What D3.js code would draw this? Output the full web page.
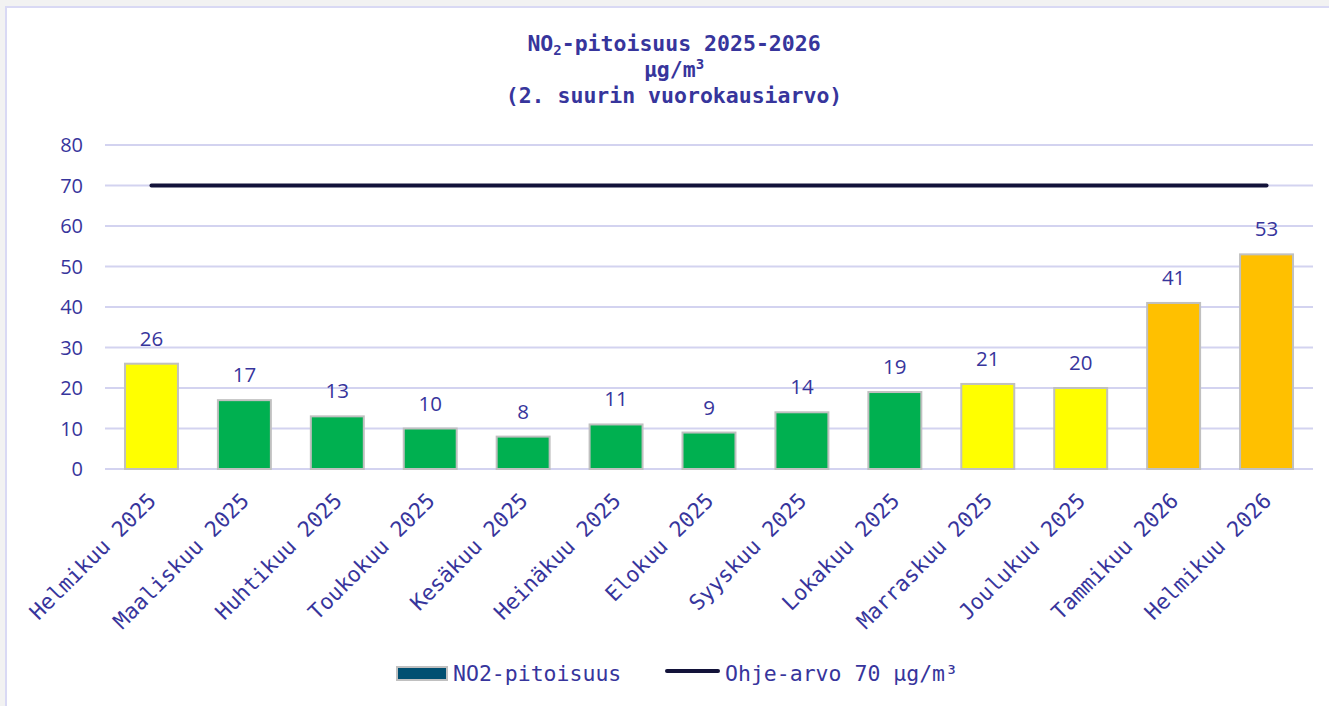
<html>
    <head>
        <meta charset="utf-8">
        <style>
            body { margin: 0; background: #f2f2f2; }
            svg { display: block; }
        </style>
    </head>
    <body>
        <svg width="1329" height="706"></svg>
        <script src="https://cdnjs.cloudflare.com/ajax/libs/d3/7.8.5/d3.min.js"></script>
        <script>
            // data
            const months = ['Helmikuu 2025', 'Maaliskuu 2025', 'Huhtikuu 2025', 'Toukokuu 2025', 'Kesäkuu 2025',
                            'Heinäkuu 2025', 'Elokuu 2025', 'Syyskuu 2025', 'Lokakuu 2025', 'Marraskuu 2025',
                            'Joulukuu 2025', 'Tammikuu 2026', 'Helmikuu 2026'];
            const no2 = [26, 17, 13, 10, 8, 11, 9, 14, 19, 21, 20, 41, 53];
            const limit = 70;
            const yTicks = [0, 10, 20, 30, 40, 50, 60, 70, 80];

            const textColor = '#37359c';
            const mono = '"DejaVu Sans Mono", "Liberation Mono", monospace';
            const sans = '"Open Sans", "Noto Sans", sans-serif';

            const svg = d3.select('svg');

            // chart area (white panel with thin border)
            svg.append('rect')
                .attr('x', 6).attr('y', 7)
                .attr('width', 1340).attr('height', 720)
                .attr('fill', '#fff')
                .attr('stroke', '#d9d9f4')
                .attr('stroke-width', 2);

            const x = d3.scaleBand()
                .domain(months)
                .range([105, 1313])
                .paddingInner(0.43)
                .paddingOuter(0.215);

            const y = d3.scaleLinear()
                .domain([0, 80])
                .range([469, 145]);

            // colour by level
            const barColor = v => v >= 40 ? '#ffc000' : (v >= 20 ? '#ffff00' : '#00b050');

            // title
            const title = svg.append('text')
                .attr('text-anchor', 'middle')
                .attr('font-family', mono)
                .attr('font-weight', 'bold')
                .attr('font-size', 21.5)
                .attr('fill', textColor);
            const l1 = title.append('tspan').attr('x', 674).attr('y', 51);
            l1.append('tspan').text('NO');
            l1.append('tspan').attr('font-size', 14).attr('dy', 4).text('2');
            l1.append('tspan').attr('dy', -4).text('-pitoisuus 2025-2026');
            const l2 = title.append('tspan').attr('x', 674).attr('y', 77);
            l2.append('tspan').text('µg/m');
            l2.append('tspan').attr('font-size', 14).attr('dy', -8).text('3');
            title.append('tspan').attr('x', 674).attr('y', 103).text('(2. suurin vuorokausiarvo)');

            // grid + y labels
            const grid = svg.append('g');
            grid.selectAll('line')
                .data(yTicks)
                .enter().append('line')
                .attr('x1', 105).attr('x2', 1313)
                .attr('y1', d => y(d)).attr('y2', d => y(d))
                .attr('stroke', '#d3d3f0')
                .attr('stroke-width', 2);

            grid.selectAll('text')
                .data(yTicks)
                .enter().append('text')
                .attr('x', 83)
                .attr('y', d => y(d))
                .attr('dy', '0.36em')
                .attr('text-anchor', 'end')
                .attr('font-family', sans)
                .attr('font-size', 20)
                .attr('fill', textColor)
                .text(d => d);

            // bars
            svg.append('g').selectAll('rect')
                .data(no2)
                .enter().append('rect')
                .attr('x', (d, i) => x(months[i]))
                .attr('y', d => y(d))
                .attr('width', x.bandwidth())
                .attr('height', d => y(0) - y(d))
                .attr('fill', d => barColor(d))
                .attr('stroke', '#c0c0c0')
                .attr('stroke-width', 2);

            // value labels
            svg.append('g').selectAll('text')
                .data(no2)
                .enter().append('text')
                .attr('x', (d, i) => x(months[i]) + x.bandwidth() / 2)
                .attr('y', d => y(d) - 18)
                .attr('text-anchor', 'middle')
                .attr('font-family', sans)
                .attr('font-size', 20.5)
                .attr('fill', textColor)
                .text(d => d);

            // limit line
            const cx = d => x(d) + x.bandwidth() / 2;
            svg.append('line')
                .attr('x1', cx(months[0]))
                .attr('x2', cx(months[months.length - 1]))
                .attr('y1', y(limit)).attr('y2', y(limit))
                .attr('stroke', '#13133a')
                .attr('stroke-width', 4)
                .attr('stroke-linecap', 'round');

            // rotated month labels
            svg.append('g').selectAll('text')
                .data(months)
                .enter().append('text')
                .attr('transform', d => `translate(${cx(d) + 6},${502}) rotate(-45)`)
                .attr('text-anchor', 'end')
                .attr('font-family', mono)
                .attr('font-size', 21.5)
                .attr('fill', textColor)
                .text(d => d);

            // legend
            const legend = svg.append('g').attr('font-family', mono).attr('font-size', 21.5).attr('fill', textColor);
            legend.append('rect')
                .attr('x', 397).attr('y', 667)
                .attr('width', 50).attr('height', 13)
                .attr('fill', '#004f71')
                .attr('stroke', '#c0c0c0')
                .attr('stroke-width', 2);
            legend.append('text').attr('x', 453).attr('y', 681).text('NO2-pitoisuus');
            legend.append('line')
                .attr('x1', 667).attr('x2', 718)
                .attr('y1', 671).attr('y2', 671)
                .attr('stroke', '#13133a')
                .attr('stroke-width', 4)
                .attr('stroke-linecap', 'round');
            legend.append('text').attr('x', 725).attr('y', 681).text('Ohje-arvo 70 µg/m³');
        </script>
    </body>
</html>
